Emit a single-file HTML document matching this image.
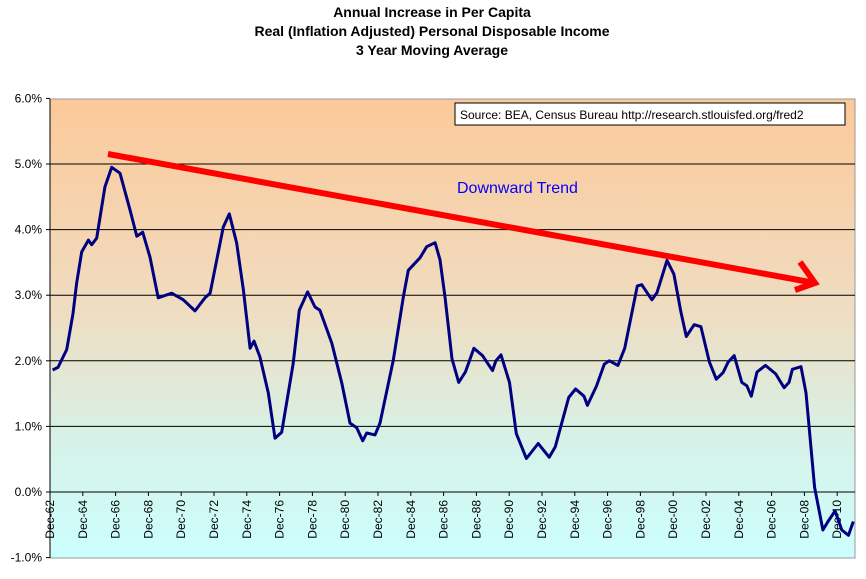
<!DOCTYPE html>
<html><head><meta charset="utf-8"><style>
body{margin:0;background:#fff;width:866px;height:574px;overflow:hidden;font-family:"Liberation Sans",Arial,sans-serif}
</style></head><body>
<svg id="chart" width="866" height="574" xmlns="http://www.w3.org/2000/svg" font-family="Liberation Sans, Arial, sans-serif">
<defs><linearGradient id="bg" x1="0" y1="0" x2="0" y2="1"><stop offset="0" stop-color="#fcc999"/><stop offset="0.45" stop-color="#f0dcc0"/><stop offset="0.75" stop-color="#d6f2e8"/><stop offset="1" stop-color="#ccffff"/></linearGradient></defs>
<g font-weight="bold" font-size="14" text-anchor="middle" fill="#000">
<text x="432" y="17">Annual Increase in Per Capita</text>
<text x="432" y="36">Real (Inflation Adjusted) Personal Disposable Income</text>
<text x="432" y="55">3 Year Moving Average</text>
</g>
<rect x="50" y="99" width="805" height="459" fill="url(#bg)" stroke="#999" stroke-width="1"/>
<g id="grid"></g><g id="yaxis"></g><g id="xaxis"></g>
<polyline id="series" fill="none" stroke="#000080" stroke-width="3" stroke-linejoin="round"/>
<g stroke="#ff0000" stroke-width="6" fill="none" stroke-linecap="butt">
<line x1="108" y1="154" x2="815" y2="283"/>
<polyline points="800,262 815,283 795,290"/>
</g>
<text x="457" y="193" font-size="16" fill="#0000ff">Downward Trend</text>
<g>
<rect x="455" y="103" width="390" height="22" fill="#fff" stroke="#000"/>
<text x="460" y="119" font-size="12">Source: BEA, Census Bureau http://research.stlouisfed.org/fred2</text>
</g>
</svg>
<script>
const years=[1963.08,1963.41,1963.94,1964.32,1964.55,1964.85,1965.26,1965.46,1965.77,1966.27,1966.68,1967.19,1967.80,1968.21,1968.57,1969.02,1969.52,1970.34,1971.05,1971.76,1972.37,1972.68,1973.49,1973.85,1974.30,1974.71,1975.12,1975.36,1975.72,1976.23,1976.64,1977.05,1977.75,1978.12,1978.63,1979.08,1979.38,1980.10,1980.71,1981.21,1981.62,1981.99,1982.23,1982.74,1983.04,1983.85,1984.46,1984.77,1985.48,1985.89,1986.40,1986.70,1987.01,1987.43,1987.84,1988.25,1988.77,1989.29,1989.90,1990.11,1990.42,1990.94,1991.35,1991.97,1992.69,1993.36,1993.73,1994.55,1994.97,1995.48,1995.69,1996.25,1996.72,1997.03,1997.55,1997.96,1998.73,1999.00,1999.62,1999.93,2000.54,2000.96,2001.38,2001.72,2002.20,2002.61,2003.13,2003.55,2003.96,2004.27,2004.64,2005.10,2005.41,2005.68,2006.03,2006.54,2007.17,2007.68,2007.98,2008.19,2008.71,2009.02,2009.54,2010.05,2010.36,2010.79,2011.20,2011.61,2011.90];
const values=[1.86,1.9,2.17,2.72,3.19,3.66,3.84,3.77,3.87,4.65,4.95,4.86,4.3,3.9,3.96,3.58,2.96,3.03,2.93,2.76,2.96,3.03,4.04,4.24,3.8,3.08,2.19,2.3,2.06,1.51,0.82,0.91,1.96,2.77,3.05,2.82,2.77,2.27,1.66,1.05,0.98,0.78,0.9,0.87,1.05,2.01,2.97,3.38,3.57,3.74,3.8,3.54,2.96,2.03,1.67,1.83,2.19,2.08,1.85,2.0,2.09,1.67,0.89,0.51,0.74,0.53,0.69,1.44,1.57,1.46,1.32,1.62,1.95,2.0,1.93,2.19,3.14,3.16,2.93,3.04,3.53,3.32,2.76,2.37,2.55,2.52,1.98,1.72,1.82,1.98,2.08,1.67,1.62,1.46,1.83,1.93,1.8,1.59,1.67,1.87,1.91,1.51,0.07,-0.58,-0.45,-0.29,-0.58,-0.66,-0.45];
const yTicks=[-1,0,1,2,3,4,5,6];
const yTickLabels=["-1.0%","0.0%","1.0%","2.0%","3.0%","4.0%","5.0%","6.0%"];
const xTickYears=[1962,1964,1966,1968,1970,1972,1974,1976,1978,1980,1982,1984,1986,1988,1990,1992,1994,1996,1998,2000,2002,2004,2006,2008,2010];
const xTickLabels=["Dec-62","Dec-64","Dec-66","Dec-68","Dec-70","Dec-72","Dec-74","Dec-76","Dec-78","Dec-80","Dec-82","Dec-84","Dec-86","Dec-88","Dec-90","Dec-92","Dec-94","Dec-96","Dec-98","Dec-00","Dec-02","Dec-04","Dec-06","Dec-08","Dec-10"];
const NS="http://www.w3.org/2000/svg";
function yS(v){return 492-v*65.6;}
function xS(yr){return 50+(yr-1962.92)*16.4;}
function mk(t,a){const e=document.createElementNS(NS,t);for(const k in a)e.setAttribute(k,a[k]);return e;}
const grid=document.getElementById('grid'),ya=document.getElementById('yaxis'),xa=document.getElementById('xaxis');
yTicks.forEach((v,i)=>{
  const y=yS(v);
  if(v>-1&&v<6){const l=mk('line',{x1:50,x2:855,y1:y,y2:y,stroke:'#000','stroke-width':1});
  
  grid.appendChild(l);}
  const tk=mk('line',{x1:46,x2:50,y1:y,y2:y,stroke:'#000'});
  
  ya.appendChild(tk);
  const t=mk('text',{x:42,y:y+4,'font-size':12,'text-anchor':'end'});
  
  
  t.textContent=yTickLabels[i];ya.appendChild(t);
});
const ax=mk('line',{x1:50,x2:50,y1:99,y2:558,stroke:'#000'});

ya.appendChild(ax);
const x0=mk('line',{x1:50,x2:855,y1:yS(0),y2:yS(0),stroke:'#000'});

xa.appendChild(x0);
xTickYears.forEach((yr,i)=>{
  const x=xS(yr+0.92);
  const tk=mk('line',{x1:x,x2:x,y1:yS(0),y2:yS(0)+4,stroke:'#000'});
  
  xa.appendChild(tk);
  const t=mk('text',{x:0,y:0,'font-size':12,'text-anchor':'end',transform:`translate(${x+4},${yS(0)+8}) rotate(-90)`});
  
  
  t.textContent=xTickLabels[i];xa.appendChild(t);
});
document.getElementById('series').setAttribute('points',years.map((y,i)=>xS(y).toFixed(1)+','+yS(values[i]).toFixed(1)).join(' '));
</script>
</body></html>
